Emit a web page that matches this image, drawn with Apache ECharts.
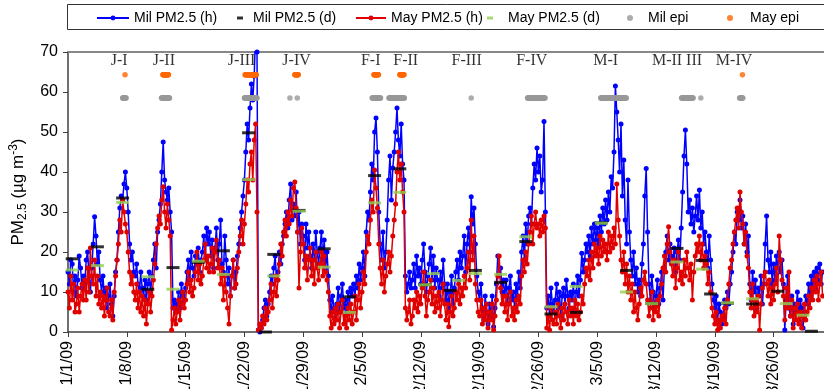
<!DOCTYPE html>
<html>
<head>
<meta charset="utf-8">
<script src="https://cdn.jsdelivr.net/npm/echarts@6/dist/echarts.min.js"></script>
<style>
  html, body { margin: 0; padding: 0; background: #fff; }
  #chart { width: 824px; height: 389px; }
</style>
</head>
<body>
<div id="chart"></div>
<script>
// PM2.5 at Milwaukee (Mil) and Mayville (May), Jan 1 - Mar 31 2009.
// Hourly series are sampled every STEP_HOURS hours, six values per day.
const STEP_HOURS = 4;

const milHourly = [
  15,12,18,17,10,14,   // 1/1
  9,13,19,16,11,14,
  12,18,20,14,10,16,
  22,28.8,24,17,20,13,
  10,14,8,11,6,9,
  12,7,4,9,15,18,
  25,31,34,33,37,40,   // 1/7
  36,30,22,18,20,15,
  14,17,12,10,15,11,
  9,13,8,12,15,10,
  14,18,22,16,25,28,
  32,40,47.5,38,35,33,
  36,30,25,6,8,5,
  7,10,6,12,9,8,
  11,15,18,13,20,16,   // 1/15
  14,19,17,21,15,18,
  20,24,18,26,22,25,
  19,23,16,21,26,18,
  22,28,17,15,24,18,
  12,16,9,14,18,11,
  15,19,22,26,30,34,
  38,45,52,48,56,62,   // 1/22
  58,64,75,70,0.5,0,
  1,3,6,8,4,7,
  10,14,12,16,19,13,
  15,20,17,22,24,27,
  30,26,33,37,28,32,
  29,35,25,30,22,27,
  24,18,27,21,25,19,   // 1/29
  16,22,18,25,20,17,
  21,25,18,23,16,20,
  14,8,5,9,6,3,
  7,11,5,9,12,6,
  8,5,10,7,11,9,
  12,9,14,11,17,13,
  16,20,14,25,30,28,   // 2/5
  35,42,38,50,53.5,45,
  30,22,18,25,16,20,
  28,38,44,33,41,45,
  50,56,48,44,52,42,
  38,14,10,12,15,11,
  13,17,11,19,14,16,
  12,18,22,15,10,14,   // 2/12
  17,21,13,19,11,16,
  13,9,15,11,18,12,
  8,12,6,10,14,7,
  11,15,18,13,20,16,
  19,24,15,22,26,20,
  33.8,27,31,22,14,10,
  8,12,6,3,9,5,        // 2/19
  2,7,4,9,1.3,6,
  12,19,14,16,10,13,
  9,13,7,11,14,8,
  10,6,12,9,15,11,
  20,24,18,27,22,29,
  31,27,36,42,38,46,
  40,44,35,38,52.6,30, // 2/26
  6,9,4,11,7,5,
  8,12,6,10,4,9,
  11,7,13,9,6,10,
  8,12,5,10,14,9,
  13,19.7,15,18,22,20,
  24,19,26,22,27,23,
  26,22,29,25,31,27,   // 3/5
  33,28,35,30,38.8,36,
  45,61.5,55,48,40,52,
  34,43,28,22,38,25,
  18,14,20,12,16,10,
  13,9,17,22,34,40.9,
  25,12,8,14,10,6,
  9,13,7,11,15,8,      // 3/12
  16,20,24,18,22,19,
  17,21,15,20,23,18,
  26,35,44,50.5,42,30,
  33,27,31,25,29,34,
  28,35.5,26,30,22,25,
  20,16,24,18,12,8,
  6,9,3,7,5,2,         // 3/19
  4,8,6,10,7,12,
  15,20,25,22,30,28,
  33,26,29,22,27,20,
  24,12,8,15,10,13,
  6,11,9,14,7,12,
  22,29,18,15,20,12,
  17,13,19,16,20,15,   // 3/26
  18,12,0.5,8,14,6,
  4,9,2,7,5,10,
  3,8,6,1,5,9,
  7,12,9,14,10,15,
  11,16,13,17,12,15
];

const mayHourly = [
  10,6,14,8,12,5,      // 1/1
  7,11,5,9,12,8,
  13,8,16,10,21,14,
  12,18,9,14,7,10,
  6,9,4,8,11,5,
  4,8,3,10,14,18,
  22,28,25,33,30,27,   // 1/7
  25,20,15,12,14,10,
  8,12,6,10,5,9,
  4,8,2,7,10,5,
  9,13,17,22,26,29,
  27,33,36.3,30,26,32,
  28,24,0.5,3,6,2,
  5,8,3,7,10,6,
  8,12,15,10,13,9,     // 1/15
  11,15,20,13,17,12,
  14,18,22,16,19,15,
  17,21,15,20,23,16,
  18,12,16,8,14,10,
  6,2,9,14,18,11,
  12,16,20,24,28,22,
  27,32,38,35,42,45,   // 1/22
  38,48,52,30,0.5,2,
  1,4,2,6,3,5,
  8,12,6,10,14,9,
  13,17,22,19,25,28,
  24,30,27,33,29,36,
  37.5,31,25,11,20,26,
  22,16,19,13,18,21,   // 1/29
  14,18,12,20,16,13,
  17,20,14,19,15,13,
  10,4,1,5,2,6,
  3,7,1,5,8,2,
  4,1,6,3,7,2,
  5,9,3,8,12,6,
  10,15,12,20,24,22,   // 2/5
  28,33,30,40.5,36,31,
  22,16,12,18,10,14,
  17,20,15,19,24,28,
  32,40,45,38,42,35,
  30,6,3,5,8,2,
  4,8,6,10,5,9,
  7,11,15,9,4,8,       // 2/12
  10,13,7,11,5,9,
  6,10,4,8,12,7,
  3,7,1.3,5,9,4,
  6,10,8,12,7,11,
  9,14,11,16,20,13,
  28,18,24,12,8,5,
  4,8,2,6,3,7,         // 2/19
  1,5,3,7,0.5,4,
  8,14,19,11,7,9,
  5,9,3,7,10,4,
  6,3,8,5,9,7,
  14,18,15,20,17,22,
  25,29,22,27,30,26,
  27,24,28,25,29,26,   // 2/26
  1,4,0.5,6,3,2,
  5,2,7,4,1,6,
  3,7,5,2,8,4,
  6,2,8,4,7,3,
  5,9,7,12,16,14,
  18,13,20,16,22,19,
  21,17,24,19,23,20,   // 3/5
  22,18,25,20,24,21,
  26,22,37,28,24,18,
  15,20,12,17,10,14,
  8,12,5,10,6,3,
  7,11,9,13,15,12,
  8,4,6,10,3,7,
  5,8,4,9,12,16,       // 3/12
  19,15,22,26.3,20,17,
  14,18,11,16,20,13,
  15,12,18,14,20,16,
  13,17,8,15,19,22,
  20,24,18,22,16,19,
  17,12,15,10,6,4,
  2,5,0.5,3,1,4,       // 3/19
  3,6,2,8,12,16,
  18,22,25,28,31,26,
  35,30,27,22,25,19,
  16,10,6,12,4,8,
  5,9,0.5,7,11,14,
  15,12,9,13,7,11,
  8,12,16,10,24,18,    // 3/26
  13,9,3,11,6,15,
  4,8,1,6,3,7,
  2,5,1,4,7,3,
  5,9,6,11,8,13,
  10,14,8,12,15,9
];

// 24-h filter samples (every third day)
const milDailyDates  = ['1/1','1/4','1/7','1/10','1/13','1/16','1/19','1/22','1/24','1/25','1/28','1/31',
                        '2/3','2/6','2/9','2/12','2/15','2/18','2/21','2/24','2/27',
                        '3/2','3/5','3/8','3/11','3/14','3/17','3/18','3/20','3/23','3/26','3/30'];
const milDailyValues = [18.3,21.3,33.5,10.7,16.1,17.4,20.3,49.8,0,19.4,30.4,20.8,
                        8.8,39.1,40.8,11.8,10.4,15.4,12.4,22.6,4.5,
                        4.9,27.3,15.4,7.1,20.9,17.9,9.5,7.2,7.0,10.2,0.2];

const mayDailyDates  = ['1/1','1/4','1/7','1/10','1/13','1/16','1/19','1/22','1/25','1/28','1/31',
                        '2/3','2/6','2/9','2/12','2/13','2/16','2/18','2/21','2/24','2/27',
                        '3/2','3/5','3/8','3/11','3/14','3/17','3/20','3/23','3/27','3/29'];
const mayDailyValues = [15.5,16.6,32.4,13.8,10.7,17.7,14.4,38.1,14.0,30.2,16.2,
                        4.9,32.3,34.9,11.8,14.6,12.9,14.6,14.4,23.8,6.3,
                        11.4,27.2,10.0,7.1,17.5,15.7,7.3,8.3,7.1,4.2];

// Episode periods, 'M/D HH' start and end hours
const milEpisodes = [['1/7 12','1/7 22'],['1/12 03','1/13 02'],['1/22 00','1/23 12'],['1/27 10','1/27 10'],
                     ['1/28 07','1/28 07'],['2/6 05','2/7 05'],['2/8 05','2/10 01'],['2/18 00','2/18 00'],
                     ['2/24 17','2/26 19'],['3/5 10','3/8 11'],['3/15 01','3/16 10'],['3/17 08','3/17 08'],
                     ['3/21 23','3/22 08']];
const mayEpisodes = [['1/7 19','1/7 19'],['1/12 07','1/12 23'],['1/22 02','1/23 10'],['1/28 00','1/28 10'],
                     ['2/6 10','2/6 23'],['2/9 12','2/10 00'],['3/22 07','3/22 07']];
const MIL_EPI_LEVEL = 58.5;
const MAY_EPI_LEVEL = 64.3;

const episodeNames = ['J-I','J-II','J-III','J-IV','F-I','F-II','F-III','F-IV','M-I','M-II III','M-IV'];
const episodeLabelAt = ['1/7 02','1/12 10','1/21 16','1/28 05','2/6 01','2/10 05','2/17 11','2/25 05','3/6 00','3/14 12','3/21 07'];
const EPI_LABEL_LEVEL = 67.75;

const tickLabels = ['1/1/09','1/8/09','1/15/09','1/22/09','1/29/09','2/5/09','2/12/09','2/19/09',
                    '2/26/09','3/5/09','3/12/09','3/19/09','3/26/09'];

// ---- helpers ----
const CUM_DAYS = [0, 31, 59, 90];
function dayOf(s) {
  const [md, hh] = s.split(' ');
  const [m, d] = md.split('/').map(Number);
  return CUM_DAYS[m - 1] + d - 1 + (hh === undefined ? 0.5 : Number(hh) / 24);
}
function hourlyPoints(values) {
  return values.map((v, i) => [i * STEP_HOURS / 24, v]);
}
function dailyPoints(dates, values) {
  return dates.map((d, i) => [dayOf(d), values[i]]);
}
function episodePoints(ranges, level) {
  const pts = [];
  ranges.forEach(([a, b]) => {
    const s = dayOf(a), e = dayOf(b);
    for (let t = s; t <= e + 1e-9; t += 1 / 24) pts.push([t, level]);
  });
  return pts;
}

const FONT = 'Liberation Sans';
const DASH_ICON = 'path://M0,0H2V1H0Z';

const chart = echarts.init(document.getElementById('chart'), null, { renderer: 'canvas' });

const legendBase = {
  top: 11, padding: 0, selectedMode: false,
  textStyle: { fontFamily: FONT, fontSize: 14, color: '#000' }
};

chart.setOption({
  animation: false,
  textStyle: { fontFamily: FONT },
  grid: { left: 68, right: 0, top: 52, bottom: 57, containLabel: false, outerBoundsMode: 'none' },
  legend: [
    Object.assign({}, legendBase, { left: 96,  itemWidth: 32, itemHeight: 6, data: ['Mil PM2.5 (h)'] }),
    Object.assign({}, legendBase, { left: 237, itemWidth: 16, itemHeight: 3, data: [{ name: 'Mil PM2.5 (d)', icon: DASH_ICON }] }),
    Object.assign({}, legendBase, { left: 355, itemWidth: 30, itemHeight: 6, data: ['May PM2.5 (h)'] }),
    Object.assign({}, legendBase, { left: 487, itemWidth: 26, itemHeight: 3, data: [{ name: 'May PM2.5 (d)', icon: DASH_ICON }] }),
    Object.assign({}, legendBase, { left: 627, itemWidth: 26, itemHeight: 6, data: [{ name: 'Mil epi', icon: 'circle' }] }),
    Object.assign({}, legendBase, { left: 727, itemWidth: 30, itemHeight: 6, data: [{ name: 'May epi', icon: 'circle' }] })
  ],
  graphic: [{
    type: 'rect', silent: true, z: -1,
    shape: { x: 67.5, y: 4.5, width: 760, height: 25 },
    style: { fill: 'none', stroke: '#333', lineWidth: 1 }
  }],
  xAxis: [{
    type: 'value', min: 0, max: 90, interval: 7,
    axisLine: { lineStyle: { color: '#404040', width: 1.5 } },
    axisTick: { show: true, length: 5, lineStyle: { color: '#404040' } },
    splitLine: { show: false },
    axisLabel: {
      rotate: 90, margin: 9, fontSize: 16, color: '#000', fontFamily: FONT,
      showMaxLabel: false,
      formatter: v => (Math.abs(v % 7) < 1e-6 && tickLabels[v / 7]) ? tickLabels[v / 7] : ''
    }
  }, {
    type: 'value', position: 'top', min: 0, max: 90,
    axisLine: { show: true, onZero: false, lineStyle: { color: '#888', width: 2 } },
    axisTick: { show: false }, axisLabel: { show: false }, splitLine: { show: false }
  }],
  yAxis: {
    type: 'value', min: 0, max: 70, interval: 10,
    axisLine: { show: true, lineStyle: { color: '#404040', width: 1.5 } },
    axisTick: { show: true, length: 5, lineStyle: { color: '#404040' } },
    splitLine: { show: false },
    axisLabel: { fontSize: 16, color: '#000', margin: 10, fontFamily: FONT },
    name: '{a|PM}{b|2.5}{a| (\u00b5g m}{c|-3}{a|)}',
    nameLocation: 'middle', nameRotate: 90, nameGap: 39,
    nameTextStyle: {
      color: '#000', fontFamily: FONT,
      rich: {
        a: { fontSize: 17, fontFamily: FONT, color: '#000', lineHeight: 21, verticalAlign: 'middle' },
        b: { fontSize: 12, fontFamily: FONT, color: '#000', lineHeight: 12, verticalAlign: 'bottom', padding: [9, 0, 0, 0] },
        c: { fontSize: 12, fontFamily: FONT, color: '#000', lineHeight: 12, verticalAlign: 'top', padding: [0, 0, 9, 0] }
      }
    }
  },
  series: [
    {
      name: 'Mil PM2.5 (h)', type: 'line', data: hourlyPoints(milHourly),
      symbol: 'circle', symbolSize: 5, showSymbol: true, z: 2,
      lineStyle: { color: '#0000ff', width: 1.5 }, itemStyle: { color: '#0000ff' }
    },
    {
      name: 'May PM2.5 (h)', type: 'line', data: hourlyPoints(mayHourly),
      symbol: 'circle', symbolSize: 5, showSymbol: true, z: 3,
      lineStyle: { color: '#e00000', width: 1.5 }, itemStyle: { color: '#e00000' }
    },
    {
      name: 'Mil PM2.5 (d)', type: 'scatter', data: dailyPoints(milDailyDates, milDailyValues),
      symbol: 'rect', symbolSize: [13, 3], z: 4, itemStyle: { color: '#000' }
    },
    {
      name: 'May PM2.5 (d)', type: 'scatter', data: dailyPoints(mayDailyDates, mayDailyValues),
      symbol: 'rect', symbolSize: [13, 3], z: 5, itemStyle: { color: '#92d050' }
    },
    {
      name: 'Mil epi', type: 'scatter', data: episodePoints(milEpisodes, MIL_EPI_LEVEL),
      symbol: 'circle', symbolSize: 5.5, z: 4, itemStyle: { color: '#999999' }
    },
    {
      name: 'May epi', type: 'scatter', data: episodePoints(mayEpisodes, MAY_EPI_LEVEL),
      symbol: 'circle', symbolSize: 5.5, z: 4, itemStyle: { color: '#ff6600' }
    },
    {
      name: 'episodes', type: 'scatter', silent: true, symbolSize: 0, z: 6,
      data: episodeNames.map((n, i) => ({ name: n, value: [dayOf(episodeLabelAt[i]), EPI_LABEL_LEVEL] })),
      label: {
        show: true, position: 'inside', formatter: p => p.name,
        fontFamily: 'Liberation Serif', fontSize: 16, color: '#000'
      }
    }
  ]
});
</script>
</body>
</html>
